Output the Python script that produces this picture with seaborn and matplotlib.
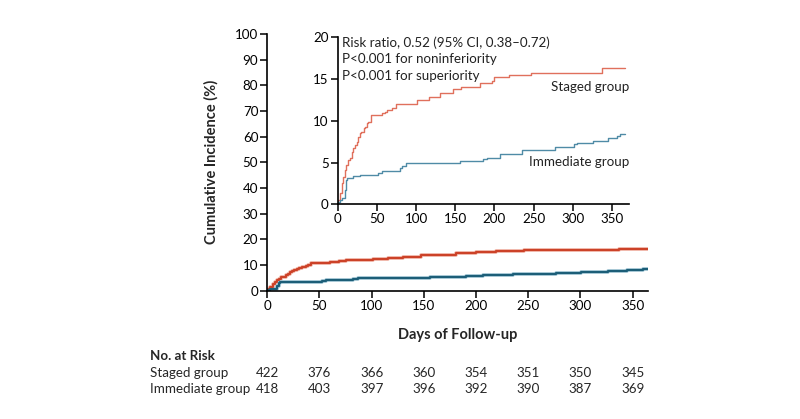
import numpy as np
import pandas as pd
import matplotlib
matplotlib.use("Agg")
import matplotlib.pyplot as plt
import matplotlib.transforms as mtrans
import seaborn as sns

# ---- data ----
staged_days = [0, 1, 3, 5, 7, 9, 11, 13, 16, 18, 20, 22, 24, 26, 28, 30, 33, 35, 37, 39, 42,
               56, 60, 63, 69, 75, 101, 116, 130, 147, 157, 181, 197, 200, 219, 246, 337, 366]
staged_pct = [0, 0.5, 1.3, 2.5, 3.3, 4.1, 4.7, 5.3, 5.5, 6.3, 6.7, 7.1, 7.5, 8.1, 8.5, 8.7, 9.1, 9.3, 9.7, 9.9, 10.7,
              10.9, 11.1, 11.3, 11.5, 12.0, 12.5, 12.8, 13.3, 13.8, 14.1, 14.5, 14.8, 15.2, 15.5, 15.7, 16.3, 16.3]
immediate_days = [0, 1, 3, 6, 9, 11, 12.5, 20, 28, 52, 56, 79, 82, 87, 156, 185, 190, 207, 235,
                  277, 301, 305, 326, 345, 356, 360, 366]
immediate_pct = [0, 0.3, 0.5, 0.8, 1.7, 2.9, 3.2, 3.4, 3.5, 3.8, 4.0, 4.3, 4.6, 5.0, 5.2, 5.4, 5.6, 6.0, 6.5,
                 6.9, 7.2, 7.3, 7.6, 7.9, 8.2, 8.4, 8.4]
groups = ["Staged group", "Immediate group"]
risk_days = [0, 50, 100, 150, 200, 250, 300, 350]
risk_staged = [422, 376, 366, 360, 354, 351, 350, 345]
risk_immediate = [418, 403, 397, 396, 392, 390, 387, 369]
main_yticks = list(range(0, 101, 10))
inset_yticks = [0, 5, 10, 15, 20]
xticks = [0, 50, 100, 150, 200, 250, 300, 350]
stats_text = ["Risk ratio, 0.52 (95% CI, 0.38\u20130.72)",
              "P<0.001 for noninferiority",
              "P<0.001 for superiority"]

df = pd.concat([
    pd.DataFrame({"day": staged_days, "pct": staged_pct, "group": groups[0]}),
    pd.DataFrame({"day": immediate_days, "pct": immediate_pct, "group": groups[1]}),
], ignore_index=True)

sns.set_style("ticks")
plt.rcParams["font.family"] = ["Lato", "DejaVu Sans"]
FS = 9.6

main_dark = {groups[0]: "#CC4228", groups[1]: "#1C5E78"}
main_halo = {groups[0]: "#F0B0A2", groups[1]: "#9CC2D2"}
inset_col = {groups[0]: "#E0705C", groups[1]: "#4F8BA6"}

fig = plt.figure(figsize=(8.0, 4.19), dpi=100)
W, H = 800, 419

def axes_px(x0, x1, ytop, ybot):
    return fig.add_axes([x0 / W, 1 - ybot / H, (x1 - x0) / W, (ybot - ytop) / H])

ax = axes_px(267.3, 648.3, 34.0, 290.7)
sns.lineplot(data=df, x="day", y="pct", hue="group", palette=main_halo, estimator=None,
             drawstyle="steps-post", lw=2.6, legend=False, ax=ax)
sns.lineplot(data=df, x="day", y="pct", hue="group", palette=main_dark, estimator=None,
             drawstyle="steps-post", lw=1.5, legend=False, ax=ax)
ax.set_xlim(0, 365)
ax.set_ylim(0, 100)
ax.set_xticks(xticks)
ax.set_yticks(main_yticks)
ax.set_xlabel("Days of Follow-up", fontsize=10.5, fontweight="bold", labelpad=12)
ax.set_ylabel("Cumulative Incidence (%)", fontsize=10.5, fontweight="bold", labelpad=12)
for s in ["top", "right"]:
    ax.spines[s].set_visible(False)
for s in ["left", "bottom"]:
    ax.spines[s].set_linewidth(1.2)
    ax.spines[s].set_color("black")
ax.tick_params(axis="both", length=5, width=1.1, labelsize=FS, pad=1.5, colors="black")
ax.set_facecolor("none")

# inset
ia = axes_px(337.7, 629.3, 37.3, 204.3)
sns.lineplot(data=df, x="day", y="pct", hue="group", palette=inset_col, estimator=None,
             drawstyle="steps-post", lw=1.0, legend=False, ax=ia)
ia.set_xlim(0, 372)
ia.set_ylim(0, 20)
ia.set_xticks(xticks)
ia.set_yticks(inset_yticks)
ia.set_xlabel("")
ia.set_ylabel("")
for s in ["top", "right"]:
    ia.spines[s].set_visible(False)
for s in ["left", "bottom"]:
    ia.spines[s].set_linewidth(1.2)
    ia.spines[s].set_color("black")
ia.tick_params(axis="both", length=5, width=1.1, labelsize=FS, pad=1.5, colors="black")
ia.set_facecolor("white")
for i, line in enumerate(stats_text):
    ia.text(5, 19.3 - i * 1.95, line, fontsize=FS, va="center", ha="left", color="#222222")
ia.text(1.0, 14.1, groups[0], transform=ia.get_yaxis_transform(), fontsize=FS,
        ha="right", va="center", color="#222222")
ia.text(1.0, 5.1, groups[1], transform=ia.get_yaxis_transform(), fontsize=FS,
        ha="right", va="center", color="#222222")

# number at risk table
fig.text(150 / W, 1 - 356 / H, "No. at Risk", fontsize=FS, fontweight="bold", va="center", ha="left")
fig.text(150 / W, 1 - 373 / H, groups[0], fontsize=FS, va="center", ha="left")
fig.text(150 / W, 1 - 389 / H, groups[1], fontsize=FS, va="center", ha="left")
tt = mtrans.blended_transform_factory(ax.transData, fig.transFigure)
for d, a, b in zip(risk_days, risk_staged, risk_immediate):
    fig.text(d, 1 - 373 / H, str(a), transform=tt, fontsize=FS, va="center", ha="center")
    fig.text(d, 1 - 389 / H, str(b), transform=tt, fontsize=FS, va="center", ha="center")

fig.savefig("out.png", dpi=100)
